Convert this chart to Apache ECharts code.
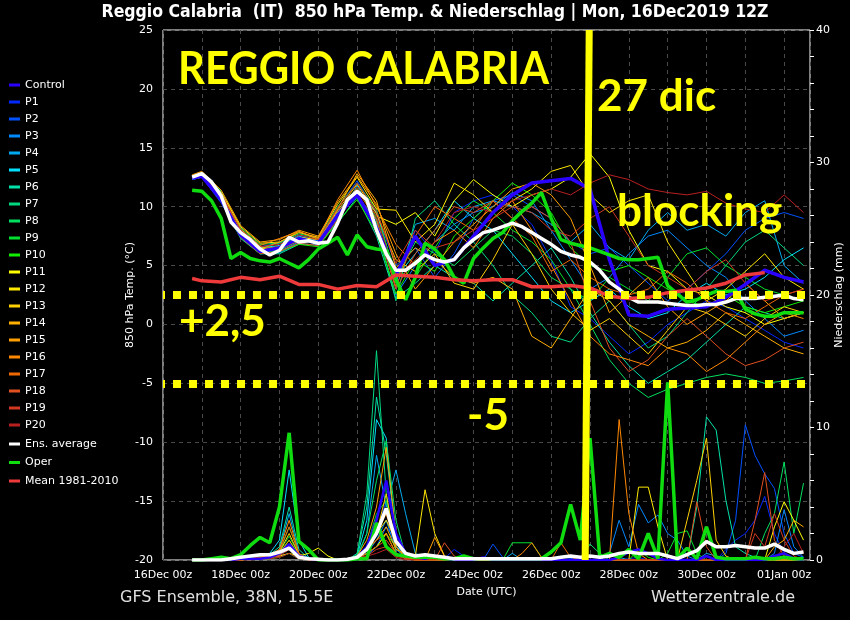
<!DOCTYPE html>
<html><head><meta charset="utf-8">
<script src="https://cdn.jsdelivr.net/npm/echarts@6/dist/echarts.min.js"></script>
<style>html,body{margin:0;padding:0;background:#000;}#c{width:850px;height:620px;}</style>
</head><body><div id="c"></div>
<script>
// ---- time axes (hours after 16Dec2019 00z) ----
const hours6 = [18,24,30,36,42,48,54,60,66,72,78,84,90,96,102,108,114,120,126,132,138,144,150,156,162,168,174,180,186,192,198,204,210,216,222,228,234,240,246,252,258,264,270,276,282,288,294,300,306,312,318,324,330,336,342,348,354,360,366,372,378,384,390,396];
const hours12 = [18,24,36,48,60,72,84,96,108,120,132,144,156,168,180,192,204,216,228,240,252,264,276,288,300,312,324,336,348,360,372,384,396];
const dayLabels = ['16Dec 00z','18Dec 00z','20Dec 00z','22Dec 00z','24Dec 00z','26Dec 00z','28Dec 00z','30Dec 00z','01Jan 00z'];

const memberNames = ['Control','P1','P2','P3','P4','P5','P6','P7','P8','P9','P10','P11','P12','P13','P14','P15','P16','P17','P18','P19','P20'];
const memberColors = ['#2a00ff','#0028ff','#0052ff','#0088ff','#00aaf0','#00e0ff','#00e0a8','#00d880','#00e060','#00e030','#10f000','#ffff00','#ffe800','#ffd000','#ffb000','#ffa000','#ff8800','#f06800','#e05020','#d03820','#b82020'];

// ---- 850 hPa temperature (deg C), members at hours12 ----
const tControl = [12.4,12.6,10.6,7.6,6.2,6.5,7.3,6.9,9.3,11.0,8.2,4.2,7.5,5.0,5.5,7.5,9.5,11.0,12.0,12.2,12.4,11.5,5.5,0.8,0.7,1.3,1.4,1.5,2.3,3.4,4.6,4.0,3.6];
const tP1 = [12.3,12.5,10.3,7.5,6.1,6.6,7.4,6.8,9.6,11.5,9.0,3.0,8.0,6.0,9.5,10.5,11.0,10.0,8.5,5.5,1.5,0.5,-1.0,-2.5,-1.5,0.0,1.0,2.0,1.5,0.5,-0.5,-1.5,-2.0];
const tP2 = [12.6,12.9,11.2,8.0,6.6,6.9,7.6,7.1,9.9,12.2,9.5,5.0,6.5,4.0,6.0,9.0,10.5,11.0,10.0,9.0,7.0,6.0,6.5,5.0,3.5,2.0,3.0,4.5,6.0,8.0,9.0,9.5,9.0];
const tP3 = [12.4,12.7,10.8,7.9,6.3,6.2,7.0,7.1,9.2,11.0,8.0,2.5,5.0,7.0,8.5,9.5,10.0,11.2,10.5,8.0,5.5,3.0,4.0,6.0,7.5,8.0,6.5,5.0,4.0,2.0,0.5,-1.0,-0.5];
const tP4 = [12.5,12.6,10.6,7.4,6.0,6.1,6.9,6.7,8.8,11.8,8.8,3.5,8.5,9.0,8.0,10.0,10.5,10.0,9.5,8.5,7.0,8.5,6.5,5.5,8.0,9.5,8.0,8.5,7.5,9.5,10.5,5.0,3.5];
const tP5 = [12.5,12.8,11.0,7.8,6.5,6.7,7.5,7.0,9.5,11.3,9.5,4.0,6.0,8.0,10.5,9.0,8.0,6.0,4.0,2.0,1.0,2.0,3.0,1.5,0.5,1.0,2.5,3.5,2.5,3.0,4.0,5.5,6.5];
const tP6 = [12.3,12.5,10.4,7.3,6.0,6.0,6.8,6.8,8.6,10.8,7.5,2.2,3.5,5.0,4.0,3.5,2.0,3.5,5.0,6.5,4.0,1.0,-1.5,-3.5,-5.0,-4.0,-3.0,-1.5,0.0,1.5,1.0,0.5,1.0];
const tP7 = [12.4,12.6,10.7,7.5,6.1,6.3,7.1,6.9,9.0,11.1,8.6,2.0,9.0,10.5,8.5,7.0,5.0,2.5,1.0,-1.0,-1.5,0.5,2.0,0.0,-2.0,-1.0,1.0,3.0,5.0,7.0,8.0,6.5,5.0];
const tP8 = [12.6,12.9,11.3,8.2,6.8,6.9,7.7,7.3,10.0,12.0,9.8,3.8,7.0,6.0,5.0,6.5,8.0,7.5,6.0,4.0,3.0,0.0,-3.0,-5.0,-6.2,-5.5,-5.0,-4.5,-4.2,-4.5,-5.0,-4.8,-4.5];
const tP9 = [12.5,12.7,11.0,7.7,6.3,6.5,7.2,7.0,9.4,11.5,9.0,4.5,4.0,6.5,9.0,10.5,9.5,8.0,7.0,5.5,3.0,2.0,4.0,3.0,2.0,4.0,6.0,6.5,5.0,4.0,3.0,2.5,2.0];
const tP10 = [12.4,12.6,10.5,7.4,6.0,6.2,6.8,6.6,8.7,10.6,7.8,2.6,5.5,4.5,7.5,9.0,10.5,12.0,11.0,9.5,6.5,5.0,4.5,5.0,4.0,3.0,2.0,1.5,2.5,1.5,1.0,1.5,2.0];
const tP11 = [12.5,12.8,10.9,7.8,6.4,6.6,7.4,7.2,9.5,11.6,9.2,8.5,9.5,7.5,10.5,12.3,11.0,10.0,11.0,11.5,12.5,14.5,12.5,8.0,5.0,4.5,3.0,2.5,1.5,1.0,0.0,0.5,1.0];
const tP12 = [12.6,12.9,11.2,8.3,6.9,7.0,7.8,7.4,10.2,12.5,9.8,9.7,7.0,8.5,12.0,11.0,9.5,10.5,11.5,13.0,13.5,11.0,9.5,10.5,11.0,7.0,4.5,2.0,3.0,4.5,6.0,4.0,3.0];
const tP13 = [12.5,12.7,11.0,7.9,6.5,6.4,7.3,7.0,9.7,11.9,9.4,5.5,4.5,6.0,3.5,3.0,5.5,8.5,6.0,3.0,1.0,-0.5,0.5,-1.0,-2.5,-0.5,1.5,1.0,0.0,-1.0,0.5,1.5,1.0];
const tP14 = [12.4,12.6,10.8,7.7,6.4,7.0,7.9,7.2,9.8,12.8,10.5,4.8,6.5,5.5,4.0,3.5,4.0,3.0,-1.0,-2.0,0.5,3.0,2.0,0.0,-1.0,-2.0,-1.5,-0.5,1.0,0.0,-1.0,-2.0,-2.5];
const tP15 = [12.7,13.0,11.4,8.4,7.0,7.2,8.0,7.5,10.4,12.6,10.2,6.0,3.0,5.0,7.0,8.5,10.0,11.5,12.0,11.0,9.0,5.0,1.0,2.5,4.0,1.5,0.0,1.0,2.0,3.5,2.0,0.5,1.0];
const tP16 = [12.6,12.8,11.1,8.1,6.7,7.3,7.9,7.3,10.6,13.1,10.0,6.8,5.0,7.0,8.0,6.5,9.0,10.5,8.0,5.0,2.0,-1.0,-2.5,-3.0,-3.5,-2.0,-2.5,-4.0,-3.0,-1.5,0.0,1.0,0.5];
const tP17 = [12.5,12.7,10.8,7.6,6.2,6.4,7.1,6.9,9.1,11.4,8.9,3.2,7.5,10.0,9.0,8.0,10.5,9.0,7.5,4.5,5.5,4.0,3.0,2.5,3.0,4.5,3.5,2.0,1.0,0.5,1.5,2.5,3.0];
const tP18 = [12.4,12.6,10.5,7.4,6.0,6.2,6.9,6.7,8.9,11.2,8.4,3.0,6.0,8.0,10.0,9.5,10.5,9.0,10.0,9.0,7.0,2.0,-2.0,-4.0,-3.0,-1.0,0.5,-1.0,-2.5,-3.5,-3.0,-2.0,-1.5];
const tP19 = [12.6,12.8,11.1,8.0,6.6,6.8,7.6,7.2,9.9,12.0,9.6,5.2,8.0,6.5,7.0,8.0,9.0,10.0,9.5,8.0,7.5,9.0,10.0,7.5,5.0,4.0,3.0,4.5,5.5,3.5,2.0,2.5,3.0];
const tP20 = [12.5,12.7,10.9,7.7,6.3,6.6,7.3,7.0,9.4,11.6,9.2,4.0,5.5,7.0,9.5,10.0,9.5,10.5,11.0,11.5,11.0,12.0,12.7,12.3,11.5,11.2,11.0,11.3,10.3,9.8,9.5,11.0,9.5];
// mean 1981-2010 at hours12 (ends Dec 31)
const tMean = [3.9,3.7,3.6,4.0,3.8,4.1,3.4,3.4,3.0,3.3,3.2,4.2,4.1,4.0,3.8,3.7,3.8,3.8,3.2,3.2,3.3,3.1,2.4,2.2,2.3,2.7,2.9,3.1,3.5,4.2,4.4,null,null];
// ensemble average and oper at hours6
const tAvg = [12.5,12.8,12.1,10.9,8.7,7.8,7.2,6.4,5.9,6.3,7.4,7.0,7.1,6.9,7.0,8.6,10.6,11.3,10.6,8.0,6.0,4.6,4.6,5.2,5.9,5.5,5.3,5.5,6.5,7.2,7.8,8.0,8.3,8.6,8.3,7.8,7.3,6.8,6.2,5.9,5.7,5.3,4.6,3.6,3.0,2.3,1.9,1.9,1.9,1.8,1.7,1.6,1.6,1.7,1.7,1.9,2.2,2.2,2.2,2.3,2.4,2.5,2.2,2.1];
const tOper = [11.4,11.3,10.5,9.0,5.6,6.1,5.6,5.4,5.3,5.6,5.2,4.8,5.5,6.4,6.9,7.4,5.9,7.6,6.6,6.4,6.3,3.8,2.1,4.0,6.9,6.4,5.5,4.0,3.5,5.6,6.5,7.3,7.8,8.8,9.6,10.3,11.2,9.0,7.2,6.9,6.7,6.5,6.2,5.9,5.6,5.5,5.5,5.6,5.7,3.3,2.6,1.9,2.1,2.5,2.8,2.8,2.9,1.3,0.9,0.7,0.7,1.0,1.0,1.0];

// ---- precipitation (mm / 6h) at hours6 ----
const pControl = [0,0,0,0,0,0.1,0.1,0.1, 0.2,0.5,1.2,0.3,0.1,0,0,0, 0,0.2,1.0,3.0,6.0,2.0,0.5,0.2, 0.1,0.3,0.1,0,0,0,0.2,0, 0,0,0,0,0,0,0,0, 0,0,0,0,0.2,0.6,0.8,0.5, 0.1,0,0,0,0,0.3,0,0, 0,0,0,0,0.3,0.5,0.1,0];
const pP1 = [0,0,0,0,0,0.1,0.1,0.2, 0.3,0.5,1.0,0.2,0,0,0,0, 0,0.1,0.5,2.0,4.5,1.0,0.3,0.1, 0,0,0.1,0.8,0.3,0,0,0, 0,0,0,0,0,0,0,0, 0,0,0,0,0,0.1,0.2,0, 0,0,0,0,0,0,0,0.8, 1.5,2.0,3.0,4.8,2.0,0.5,0,0];
const pP2 = [0,0,0,0,0,0,0.1,0.1, 0.2,0.3,0.5,0.1,0,0,0,0, 0,0,0.3,1.0,2.5,1.5,0.2,0, 0,0,0,0,0,0,0,1.2, 0.2,0,0,0,0,0,0,0, 0,0,0,0,0,0,0,0, 0,0,0,0,0,0,0,0.5, 3.0,10.2,7.9,6.5,5.4,2.0,0.5,0.2];
const pP3 = [0,0,0,0,0,0.1,0.1,0.2, 0.2,0.4,0.8,0.2,0,0,0,0, 0,0.1,0.5,1.5,3.0,0.8,0.2,0, 0,0,0,0,0,0,0,0, 0,0,0,0,0,0,0,0.1, 0.2,0,0,0.5,3.0,1.0,4.2,2.8, 3.4,2.0,1.5,0.3,0,0,0,0, 0,0,0,0,0.5,3.8,1.0,0.2];
const pP4 = [0,0,0,0,0,0.1,0.2,0.2, 0.3,0.8,3.5,0.5,0.1,0,0,0, 0,0.2,2.0,7.9,4.0,6.8,3.5,0.5, 0.2,0.1,0,0,0,0,0,0, 0,0.5,0,0,0,0,0,0, 0,0,0,0,0.2,0,0,0, 0,0,0,0,0,0.5,0.3,0, 0,0,0,0,0,0,0,0];
const pP5 = [0,0,0,0,0,0.1,0.2,0.3, 0.5,1.5,6.8,1.5,0.2,0,0,0, 0,0.3,3.0,10.6,9.2,1.0,0.5,0.1, 0,0,0,0,0,0,0,0, 0,0,0,0,0,0,0,0, 0,0,0,0,0,0,0,0, 0,0,0,0,0,0,0,0, 0,0,0,0,0,0,0,0];
const pP6 = [0,0,0,0,0,0.1,0.2,0.3, 0.4,1.0,4.0,0.8,0.1,0,0,0, 0,0.5,4.0,12.3,8.0,2.0,0.3,0.1, 0,0,0,0,0,0,0,0, 0,0,0,0,0,0,0,0, 0,0,0,0,0,0,0,0, 0,0,0,0,4.0,10.8,9.8,4.5, 1.0,0.5,0.2,0,0,0,0,0];
const pP7 = [0,0,0,0,0,0.1,0.1,0.2, 0.3,0.6,2.5,0.5,0,0,0,0, 0,0.4,5.0,15.8,5.0,0.5,0.2,0, 0,0,0,0,0,0,0,0, 0,0,0,0,0,0,0,0, 0,0,0,0,0,0,0,0, 0,0,0,0,0,0,0,0, 0,0,0,0,0,0,0,0];
const pP8 = [0,0,0,0,0,0.1,0.1,0.2, 0.3,0.5,1.5,0.3,0,0,0,0, 0,0.3,2.0,6.0,9.0,3.0,0.3,0, 0,0,0,0,0,0,0,0, 0,0,0,0,0,0,0,0, 0,1.2,0.5,0,0,0,0,0, 0,0,0,0,0,0,0,0, 0,0,0,2.0,3.5,7.4,2.0,5.8];
const pP9 = [0,0,0,0,0,0.1,0.1,0.2, 0.3,0.6,1.8,0.4,0,0,0,0, 0,0.2,1.0,3.5,4.5,1.0,0.2,0, 0,0,0,0,0,0,0,0, 0,1.3,1.3,1.3,0.2,0,0,0, 0,0,0,0,0,0,0,0, 0,0.5,2.0,2.2,0.5,0,0,0, 0,0,0,0,0,0,0,0];
const pP10 = [0,0,0,0,0,0,0.1,0.1, 0.1,0.2,0.5,0.1,0,0,0,0, 0,0.1,0.5,1.0,2.0,1.0,0.2,0, 0,0,0,0,0,0,0,0, 0,0,0,0,0,0,0,0, 0,0,0,0,0,0,0.8,0.2, 0,0,0,0,0,0,0,0, 0,0,0,0,0,0,0,0];
const pP11 = [0,0,0,0,0,0,0.1,0.1, 0.2,0.3,0.5,0.3,0.5,0.9,0.3,0, 0,0.1,0.5,1.0,2.0,0.5,0.1,0, 0,0,0,0,0,0,0,0, 0,0,0,0,0,0,0,0, 0,0,0,0,0,0,0,0, 0,0,0,0,0,0,0,0, 0,0,0,0,2.5,4.4,3.0,1.5];
const pP12 = [0,0,0,0,0,0,0.1,0.1, 0.2,0.4,1.0,0.2,0,0,0,0, 0,0.2,1.0,2.0,3.0,1.5,0.5,0.3, 5.3,2.0,0.3,0,0,0,0,0, 0,0,0,0,0,0,0,0, 0,0,0,0,0,0,5.5,5.5, 2.5,0,0,0,0,0,0,0, 0,0,0,0,0,0,0,0];
const pP13 = [0,0,0,0,0,0,0.1,0.2, 0.3,0.6,2.0,0.4,0,0,0,0, 0,0.2,1.0,2.0,5.0,1.0,0.2,0, 0,0,0,0,0,0,0,0, 0,0,0,0,0,0,0,0, 0,0,0,0,0,0,0,0, 0,0,0,3.0,6.0,9.2,1.5,0.3, 0,0,0,0,0,0,0,0];
const pP14 = [0,0,0,0,0,0,0.1,0.2, 0.2,0.5,1.5,0.3,0,0,0,0, 0,0.2,0.8,1.5,2.5,0.8,0.5,0, 0,0,0,0,0,0,0,0, 0,0,0,0,0,0,0,0, 0,0,0,0,0,0,0,0, 0,0,0,0,0,0,0,0, 0,0,0,0,1.0,1.5,3.0,2.5];
const pP15 = [0,0,0,0,0,0,0.1,0.1, 0.2,0.4,1.2,0.3,0,0,0,0, 0,0.3,1.5,4.0,8.5,2.0,0.3,0, 0,1.7,0.3,0,0,0,0,0, 0,0,0,0,0,0,0,0, 0,0,0,0,0,0,0,0, 0,0,0,0,0,0,0,0, 0,0,0,0,0,0,0,0];
const pP16 = [0,0,0,0,0,0,0.1,0.2, 0.4,0.8,3.0,0.5,0,0,0,0, 0,0.2,1.0,2.0,3.5,1.0,0.2,0, 0,0,0,0,0,0,0,0, 0,0,0.5,1.3,0.2,0,0,0, 0,0,0,0,10.6,3.5,0.5,0, 0,0,0,0,0,0,0,0, 0,0,0,0,0,0,0,0];
const pP17 = [0,0,0,0,0,0,0.1,0.2, 0.3,0.7,2.5,0.5,0,0,0,0, 0,0.2,0.8,1.5,2.0,0.5,0.1,0, 0,0,0,0,0,0,0,0, 0,0,0,0,0,0,1.3,0.2, 0,0,0,0,0,0,0,0, 0,0,0,0,0,0,0,0, 0,0,0,0,0,0,0,0];
const pP18 = [0,0,0,0,0,0,0.1,0.1, 0.2,0.4,1.0,0.2,0,0,0,0, 0,0.1,0.5,1.0,1.5,0.5,0.1,0, 0,0,1.3,0.3,0,0,0,0, 0,0,0,0,0,0,0,0, 0,0,0,0,0,0,0,0, 0,0,0,0,4.4,1.0,0,0, 0,0,3.0,6.6,1.5,0.3,0,0];
const pP19 = [0,0,0,0,0,0,0.1,0.1, 0.2,0.3,0.8,0.2,0,0,0,0, 0,0.1,0.3,0.8,1.0,0.3,0.1,0, 0,0,0,0,0,0,0,0, 0,0,0,0,0,0,0,0, 0,0,0,0,0,0,0,0, 0,0,0,0,0,0,0,0, 0,0,2.0,1.0,3.5,1.5,0.3,0];
const pP20 = [0,0,0,0,0,0,0,0.1, 0.1,0.2,0.5,0.1,0,0,0,0, 0,0.1,0.3,0.5,0.8,0.2,0,0, 0,0,0,0,0,0,0,0, 0,0,0,0,0,0,0,0, 0,0,0,0,0,0,0,0, 0,0,0,0,0,0,0,0, 0,0,0,0,0,1.0,2.0,0.5];
const pAvg = [0,0,0,0,0.1,0.2,0.3,0.4, 0.4,0.6,0.9,0.2,0.1,0.05,0,0, 0.05,0.2,0.8,2.0,3.9,1.4,0.5,0.3, 0.4,0.3,0.2,0.1,0.1,0.1,0.1,0.1, 0.1,0.1,0.1,0.1,0.1,0.1,0.2,0.3, 0.2,0.3,0.2,0.3,0.5,0.6,0.5,0.5, 0.5,0.3,0.1,0.4,0.7,1.4,1.0,1.0, 1.1,1.0,0.9,0.9,1.2,0.8,0.5,0.6];
const pOper = [0,0,0.1,0.2,0.1,0.4,1.1,1.7, 1.3,4.0,9.6,1.4,0.8,0,0,0, 0,0.1,0.1,2.8,1.0,0.4,0.3,0.2, 0.2,0.2,0.1,0.1,0.3,0.1,0.1,0.1, 0.1,0.1,0.1,0.1,0.1,0.6,1.3,4.2, 1.5,9.2,0.2,0.5,0.2,0.8,0.1,2.0, 0.1,13.4,0.1,0.9,0.1,2.5,0.2,0.1, 0.1,0.1,0.2,0.1,0.1,0.2,0.1,0.1];

const memberT = [tControl,tP1,tP2,tP3,tP4,tP5,tP6,tP7,tP8,tP9,tP10,tP11,tP12,tP13,tP14,tP15,tP16,tP17,tP18,tP19,tP20];
const memberP = [pControl,pP1,pP2,pP3,pP4,pP5,pP6,pP7,pP8,pP9,pP10,pP11,pP12,pP13,pP14,pP15,pP16,pP17,pP18,pP19,pP20];

// annotation levels
const dottedLevels = [2.5, -5];
const verticalMark = [[263.5, 25], [261, -20]];

const pair = (hs, vs) => hs.map((h, k) => [h, vs[k]]);
const series = [];
memberNames.forEach((n, k) => {
  const thick = k === 0;
  series.push({name:n, type:'line', yAxisIndex:1, data:pair(hours6, memberP[k]), symbol:'none', silent:true,
    lineStyle:{color:memberColors[k], width: thick ? 2.5 : 1}, itemStyle:{color:memberColors[k]}, z: thick ? 3 : 2});
});
memberNames.forEach((n, k) => {
  const thick = k === 0;
  series.push({name:n, type:'line', yAxisIndex:0, data:pair(hours12, memberT[k]), symbol:'none', silent:true,
    lineStyle:{color:memberColors[k], width: thick ? 3.5 : 1}, itemStyle:{color:memberColors[k]}, z: thick ? 3 : 2});
});
series.push({name:'Oper', type:'line', yAxisIndex:1, data:pair(hours6, pOper), symbol:'none', lineStyle:{color:'#10dd10', width:3.5}, itemStyle:{color:'#10dd10'}, z:4});
series.push({name:'Oper', type:'line', yAxisIndex:0, data:pair(hours6, tOper), symbol:'none', lineStyle:{color:'#10dd10', width:3.5}, itemStyle:{color:'#10dd10'}, z:4});
series.push({name:'Ens. average', type:'line', yAxisIndex:1, data:pair(hours6, pAvg), symbol:'none', lineStyle:{color:'#ffffff', width:3.5}, itemStyle:{color:'#ffffff'}, z:5});
series.push({name:'Ens. average', type:'line', yAxisIndex:0, data:pair(hours6, tAvg), symbol:'none', lineStyle:{color:'#ffffff', width:3.5}, itemStyle:{color:'#ffffff'}, z:5});
series.push({name:'Mean 1981-2010', type:'line', yAxisIndex:0, data:pair(hours12, tMean), symbol:'none', lineStyle:{color:'#ee3a3a', width:3.5}, itemStyle:{color:'#ee3a3a'}, z:6,
  markLine:{silent:true, symbol:'none', label:{show:false}, z:10, animation:false,
    data:[
      {yAxis:dottedLevels[0], lineStyle:{color:'#ffff00', width:8, type:[8,8], dashOffset:6}},
      {yAxis:dottedLevels[1], lineStyle:{color:'#ffff00', width:8, type:[8,8], dashOffset:6}},
      [{coord:verticalMark[0], lineStyle:{color:'#ffff00', width:7, type:'solid'}}, {coord:verticalMark[1]}]
    ]}});

const font = 'DejaVu Sans';
const chart = echarts.init(document.getElementById('c'), null, {renderer:'canvas'});
chart.setOption({
  backgroundColor:'#000',
  animation:false,
  grid:{left:163, right:40, top:30, bottom:60, outerBoundsMode:'none', containLabel:false, show:true, borderColor:'#ffffff', borderWidth:1, backgroundColor:'transparent'},
  legend:[
    {data:memberNames, orient:'vertical', left:4, top:74, itemWidth:11, itemHeight:3, itemGap:5, icon:'rect', selectedMode:false,
      textStyle:{color:'#fff', fontSize:11, fontFamily:font, lineHeight:12}},
    {data:['Ens. average','Oper','Mean 1981-2010'], orient:'vertical', left:4, top:433, itemWidth:11, itemHeight:3, itemGap:6.5, icon:'rect', selectedMode:false,
      textStyle:{color:'#fff', fontSize:11, fontFamily:font, lineHeight:12}}
  ],
  xAxis:{type:'value', min:0, max:400, interval:24,
    axisLine:{show:false}, axisTick:{show:false},
    axisLabel:{color:'#fff', fontSize:11, fontFamily:font, margin:10, showMaxLabel:false,
      formatter:v => (v % 48 === 0 ? dayLabels[v/48] : '')},
    splitLine:{show:true, lineStyle:{color:'#4a4a4a', type:[4,4], width:1}},
    name:'Date (UTC)', nameLocation:'middle', nameGap:27, nameMoveOverlap:false, nameTextStyle:{color:'#fff', fontSize:11, fontFamily:font}},
  yAxis:[
    {type:'value', min:-20, max:25, interval:5, position:'left',
      axisLine:{show:false}, axisTick:{show:false},
      axisLabel:{color:'#fff', fontSize:11, fontFamily:font, margin:10},
      splitLine:{show:true, lineStyle:{color:'#4a4a4a', type:[4,4], width:1}},
      name:'850 hPa Temp. (°C)', nameLocation:'middle', nameGap:27, nameRotate:90, nameMoveOverlap:false, nameTextStyle:{color:'#fff', fontSize:11, fontFamily:font}},
    {type:'value', min:0, max:40, interval:10, position:'right',
      axisLine:{show:false},
      axisTick:{show:true, inside:false, length:4, lineStyle:{color:'#fff'}},
      minorTick:{show:true, splitNumber:5, length:4, lineStyle:{color:'#fff'}},
      axisLabel:{color:'#fff', fontSize:11, fontFamily:font, margin:6},
      splitLine:{show:false},
      name:'Niederschlag (mm)', nameLocation:'middle', nameGap:24, nameRotate:90, nameMoveOverlap:false, nameTextStyle:{color:'#fff', fontSize:11, fontFamily:font}}
  ],
  graphic:[
    {type:'text', x:435, y:12, silent:true, style:{text:'Reggio Calabria  (IT)  850 hPa Temp. & Niederschlag | Mon, 16Dec2019 12Z', fill:'#fff', font:'bold 17.5px "DejaVu Sans Condensed", "DejaVu Sans"', textAlign:'center', textVerticalAlign:'middle'}, z:20},
    {type:'text', left:120, top:590, silent:true, style:{text:'GFS Ensemble, 38N, 15.5E', fill:'#e0e0e0', font:'16px "DejaVu Sans"'}, z:20},
    {type:'text', right:55, top:590, silent:true, style:{text:'Wetterzentrale.de', fill:'#e0e0e0', font:'16px "DejaVu Sans"'}, z:20},
    {type:'text', x:178, y:69, scaleX:0.91, silent:true, style:{text:'REGGIO CALABRIA', fill:'#ffff00', font:'bold 46px Lato', textVerticalAlign:'middle'}, z:20},
    {type:'text', x:597, y:97, silent:true, style:{text:'27 dic', fill:'#ffff00', font:'bold 44px Lato', textVerticalAlign:'middle'}, z:20},
    {type:'text', x:617, y:212, silent:true, style:{text:'blocking', fill:'#ffff00', font:'bold 44px Lato', textVerticalAlign:'middle'}, z:20},
    {type:'text', x:179, y:322, silent:true, style:{text:'+2,5', fill:'#ffff00', font:'bold 44px Lato', textVerticalAlign:'middle'}, z:20},
    {type:'text', x:467, y:416, silent:true, style:{text:'-5', fill:'#ffff00', font:'bold 44px Lato', textVerticalAlign:'middle'}, z:20}
  ],
  series:series
});
</script></body></html>
